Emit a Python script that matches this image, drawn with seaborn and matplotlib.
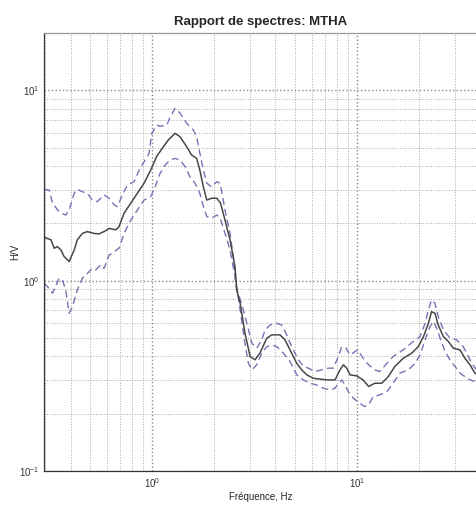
import numpy as np
import pandas as pd
import matplotlib
matplotlib.use("Agg")
import matplotlib.pyplot as plt
from matplotlib.ticker import LogLocator, NullFormatter
import seaborn as sns

# H/V spectral ratio: mean curve and +/- one standard deviation bounds
f_mean = [0.297, 0.321, 0.333, 0.345, 0.359, 0.372, 0.394, 0.417, 0.432, 0.457,
          0.483, 0.521, 0.551, 0.583, 0.617, 0.665, 0.690, 0.730, 0.787, 0.848,
          0.914, 0.985, 1.054, 1.135, 1.20, 1.295, 1.37, 1.476, 1.56, 1.65,
          1.71, 1.78, 1.85, 1.95, 2.07, 2.16, 2.27, 2.40, 2.54, 2.59,
          2.69, 2.84, 3.01, 3.18, 3.36, 3.63, 3.84, 4.21, 4.45, 4.71,
          5.08, 5.37, 5.69, 6.12, 7.11, 7.81, 8.26, 8.58, 8.91, 9.24,
          9.97, 10.7, 11.4, 12.2, 13.2, 14.2, 15.3, 16.8, 18.5, 19.9,
          21.1, 22.3, 23.1, 24.0, 24.9, 26.4, 27.9, 29.5, 31.8, 33.6,
          35.6, 37.6, 38.5]
hv_mean = [1.69, 1.64, 1.48, 1.51, 1.45, 1.34, 1.26, 1.45, 1.64, 1.77,
           1.81, 1.77, 1.76, 1.81, 1.88, 1.85, 1.92, 2.26, 2.55, 2.88,
           3.25, 3.81, 4.50, 5.05, 5.48, 5.94, 5.70, 5.05, 4.57, 4.39,
           3.81, 3.11, 2.65, 2.71, 2.71, 2.55, 2.08, 1.64, 1.18, 0.894,
           0.761, 0.530, 0.399, 0.384, 0.416, 0.499, 0.519, 0.519, 0.489, 0.433,
           0.368, 0.340, 0.320, 0.307, 0.301, 0.301, 0.340, 0.361, 0.347, 0.320,
           0.316, 0.301, 0.278, 0.289, 0.289, 0.313, 0.354, 0.391, 0.416, 0.450,
           0.508, 0.597, 0.687, 0.674, 0.585, 0.508, 0.479, 0.442, 0.433, 0.391,
           0.361, 0.327, 0.322]

f_upper = [0.297, 0.315, 0.327, 0.352, 0.379, 0.394, 0.417, 0.432, 0.457, 0.483,
           0.511, 0.541, 0.583, 0.617, 0.653, 0.677, 0.717, 0.758, 0.817, 0.865,
           0.914, 0.967, 0.997, 1.054, 1.094, 1.18, 1.22, 1.295, 1.37, 1.476,
           1.59, 1.65, 1.71, 1.78, 1.85, 1.95, 2.07, 2.15, 2.18, 2.27,
           2.40, 2.49, 2.57, 2.69, 2.79, 2.90, 3.07, 3.24, 3.43, 3.56,
           3.77, 4.06, 4.29, 4.54, 4.80, 5.18, 5.47, 5.79, 6.24, 6.73,
           7.25, 7.66, 8.11, 8.42, 8.84, 9.24, 9.78, 10.1, 10.7, 11.4,
           12.2, 12.9, 14.0, 15.0, 16.8, 18.8, 20.3, 21.5, 22.3, 23.1,
           24.0, 24.9, 26.4, 28.4, 30.6, 33.0, 34.3, 36.3, 38.5]
hv_upper = [3.02, 2.99, 2.55, 2.30, 2.21, 2.35, 2.88, 3.02, 2.93, 2.88,
            2.65, 2.60, 2.82, 2.71, 2.50, 2.45, 2.82, 3.18, 3.31, 3.81,
            4.21, 4.66, 5.94, 6.56, 6.48, 6.56, 7.15, 8.04, 7.59, 6.70,
            6.18, 5.70, 4.68, 3.81, 3.25, 3.11, 3.31, 3.25, 2.99, 2.35,
            1.77, 1.34, 0.93, 0.80, 0.702, 0.597, 0.469, 0.442, 0.489, 0.551,
            0.585, 0.597, 0.585, 0.519, 0.450, 0.384, 0.354, 0.347, 0.333, 0.340,
            0.347, 0.347, 0.399, 0.450, 0.442, 0.407, 0.424, 0.433, 0.391, 0.361,
            0.340, 0.333, 0.368, 0.399, 0.433, 0.479, 0.508, 0.597, 0.702, 0.792,
            0.761, 0.647, 0.551, 0.499, 0.489, 0.450, 0.416, 0.368, 0.337]

f_lower = [0.297, 0.309, 0.327, 0.352, 0.365, 0.379, 0.394, 0.409, 0.432, 0.457,
           0.483, 0.511, 0.531, 0.562, 0.583, 0.617, 0.653, 0.690, 0.730, 0.787,
           0.848, 0.914, 0.985, 1.034, 1.094, 1.157, 1.224, 1.295, 1.37, 1.45,
           1.53, 1.62, 1.71, 1.78, 1.85, 1.95, 2.07, 2.15, 2.27, 2.40,
           2.54, 2.69, 2.84, 2.95, 3.07, 3.24, 3.43, 3.63, 3.84, 4.06,
           4.37, 4.71, 5.08, 5.47, 5.90, 6.36, 6.85, 7.38, 7.81, 8.11,
           8.42, 8.74, 9.07, 9.60, 10.3, 10.9, 11.4, 12.0, 12.9, 14.0,
           15.0, 16.2, 17.8, 19.2, 20.3, 21.5, 22.7, 23.6, 24.5, 25.6,
           26.9, 28.4, 30.1, 31.8, 33.6, 35.6, 38.5]
hv_lower = [0.969, 0.93, 0.859, 1.03, 1.01, 0.894, 0.674, 0.731, 0.894, 1.03,
            1.09, 1.16, 1.14, 1.21, 1.16, 1.36, 1.42, 1.48, 1.77, 2.08,
            2.35, 2.65, 2.76, 3.11, 3.66, 4.05, 4.30, 4.39, 4.30, 3.97,
            3.52, 3.25, 2.88, 2.45, 2.17, 2.13, 2.21, 2.13, 1.77, 1.45,
            1.05, 0.702, 0.469, 0.368, 0.340, 0.361, 0.416, 0.450, 0.460, 0.450,
            0.416, 0.376, 0.320, 0.301, 0.289, 0.283, 0.272, 0.267, 0.272, 0.289,
            0.301, 0.283, 0.261, 0.241, 0.227, 0.218, 0.223, 0.246, 0.251, 0.261,
            0.289, 0.327, 0.340, 0.368, 0.407, 0.489, 0.574, 0.609, 0.562, 0.489,
            0.424, 0.384, 0.354, 0.327, 0.313, 0.301, 0.293]

title = "Rapport de spectres: MTHA"
x_label = "Fréquence, Hz"
y_label = "H/V"

sns.set_style("white")
plt.rcParams["font.family"] = ["Liberation Sans", "DejaVu Sans"]

fig = plt.figure(figsize=(4.77, 5.07), dpi=100)
ax = fig.add_axes([44 / 477, 36 / 507, 433 / 477, 438 / 507])
ax.set_xscale("log")
ax.set_yscale("log")

band_color = "#7474b4"
dash_kw = dict(color=band_color, linewidth=1.0, dashes=(5, 3), sort=False,
               estimator=None, ax=ax, legend=False)
sns.lineplot(x=f_upper, y=hv_upper, **dash_kw)
sns.lineplot(x=f_lower, y=hv_lower, **dash_kw)
sns.lineplot(x=f_mean, y=hv_mean, color="#474747", linewidth=1.1, sort=False,
             estimator=None, ax=ax, legend=False)

ax.set_xlim(0.297, 38.5)
ax.set_ylim(0.1, 20)

for axis in (ax.xaxis, ax.yaxis):
    axis.set_major_locator(LogLocator(base=10))
    axis.set_minor_locator(LogLocator(base=10, subs=np.arange(2, 10)))
    axis.set_minor_formatter(NullFormatter())

ax.grid(True, which="major", linestyle=":", color="#8a8a8a", linewidth=1.0)
ax.grid(True, which="minor", linestyle=":", color="#a8a8a8", linewidth=0.7)
ax.set_axisbelow(True)

ax.tick_params(which="major", direction="in", length=4, width=0.6,
               colors="#333333", labelsize=7)
ax.tick_params(which="minor", direction="in", length=2, width=0.5,
               colors="#333333")

for side in ("left", "bottom"):
    ax.spines[side].set_color("#333333")
    ax.spines[side].set_linewidth(0.9)
ax.spines["top"].set_color("#999999")
ax.spines["top"].set_linewidth(0.9)
ax.spines["right"].set_visible(False)

ax.set_title(title, fontsize=9.5, fontweight="bold", pad=6)
ax.set_xlabel(x_label, fontsize=7, labelpad=2)
ax.set_ylabel(y_label, fontsize=7, labelpad=-1)

fig.savefig("out.png", dpi=100)
